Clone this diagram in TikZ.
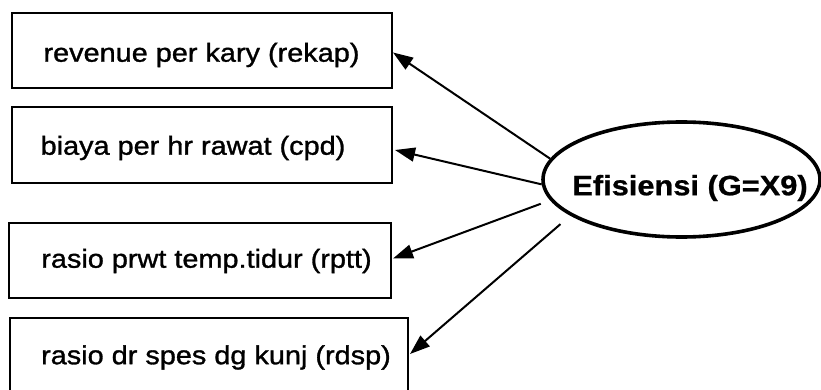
\documentclass[tikz,border=0pt]{standalone}
\usepackage{fontspec}
\setmainfont{Liberation Sans}
\newfontfamily\boxfont[FakeStretch=1.11,FakeBold=1.2]{Liberation Sans}
\newfontfamily\ovalfont[FakeStretch=1.1,FakeBold=0.8]{Liberation Sans}
\usetikzlibrary{shapes.geometric,arrows.meta}

\begin{document}
\begin{tikzpicture}[x=1pt,y=-1pt,
  ind/.style={draw,line width=2pt,rectangle,inner sep=0pt},
  lbl/.style={font=\boxfont\fontsize{26}{31}\selectfont,inner sep=0pt},
  latent/.style={draw,ellipse,line width=3.6pt,inner sep=0pt,
    minimum width=277pt,minimum height=115pt},
  latlbl/.style={font=\ovalfont\bfseries\fontsize{28}{34}\selectfont,inner sep=0pt},
  load/.style={line width=2pt,-{Triangle[length=20pt,width=14pt]}}]
\useasboundingbox (0,0) rectangle (821,390);
\clip (0,0) rectangle (821,390);

% indicator boxes
\node[ind,minimum width=380pt,minimum height=75pt] (b1) at (202,50.5) {};
\node[ind,minimum width=380pt,minimum height=76pt] (b2) at (202,145) {};
\node[ind,minimum width=382pt,minimum height=75pt] (b3) at (200,260.5) {};
\node[ind,minimum width=398pt,minimum height=84pt] (b4) at (209,360) {};

\node[lbl] (t1) at (201.5,55) {revenue per kary (rekap)};
\node[lbl] (t2) at (193,148) {biaya per hr rawat (cpd)};
\node[lbl] (t3) at (206.5,261) {rasio prwt temp.tidur (rptt)};
\node[lbl] (t4) at (216,357.5) {rasio dr spes dg kunj (rdsp)};

% latent variable
\node[latent] (e) at (681.5,179.5) {};
\node[latlbl] (et) at (690,188) {Efisiensi (G=X9)};

% loadings
\draw[load] (e.171) -- ([yshift=-2pt]b1.east);
\draw[load] (e.182) -- ([xshift=2pt,yshift=-5pt]b2.east);
\draw[load,shorten <=10pt] (e.189) -- ([xshift=1pt,yshift=2pt]b3.east);
\draw[load,shorten <=13pt] (e.198) -- ([xshift=1pt,yshift=6pt]b4.east);
\end{tikzpicture}
\end{document}
